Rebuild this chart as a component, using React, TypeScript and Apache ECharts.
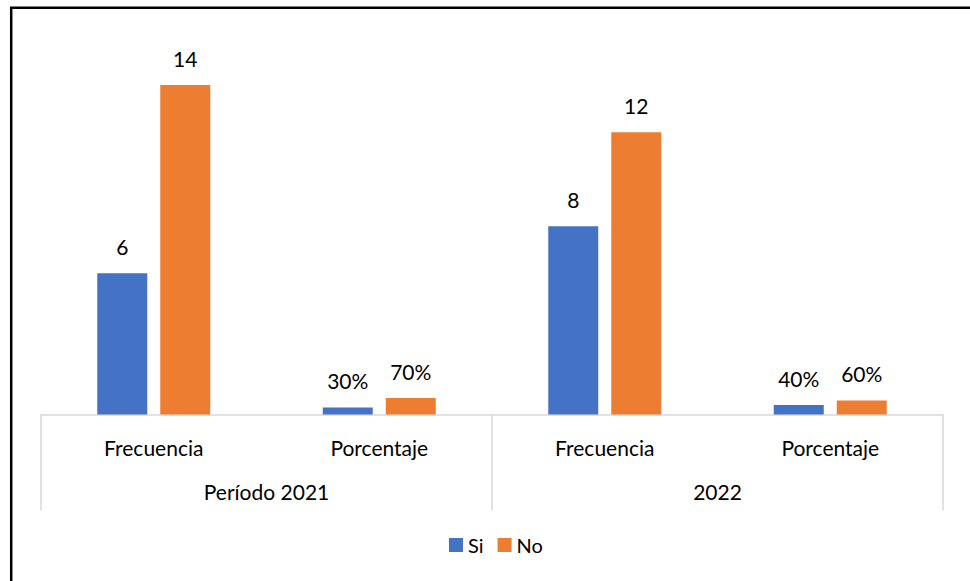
import React, { useEffect, useRef } from "react";
import * as echarts from "echarts";

// Inner categories and outer period groups
const subCategories = ["Frecuencia", "Porcentaje", "Frecuencia", "Porcentaje"];
const periods = ["Período 2021", "2022"];
// Values per category (percentages stored as fractions)
const siValues = [6, 0.3, 8, 0.4];
const noValues = [14, 0.7, 12, 0.6];
const seriesNames = ["Si", "No"];

const FONT = "Lato";

const fmt = (p: any) => {
  const isPct = p.dataIndex % 2 === 1;
  return isPct ? `${Math.round(p.value * 100)}%` : `${p.value}`;
};

export default function App() {
  const ref = useRef<HTMLDivElement>(null);

  useEffect(() => {
    if (!ref.current) return;
    const chart = echarts.init(ref.current, null, { renderer: "svg" });
    const labelStyle = {
      show: true,
      position: "top" as const,
      distance: 16,
      color: "#000",
      fontFamily: FONT,
      fontSize: 21,
      formatter: fmt,
    };
    chart.setOption({
      animation: false,
      backgroundColor: "#fff",
      textStyle: { fontFamily: FONT },
      grid: { left: 41, right: 27, top: 38, bottom: 166.5 },
      legend: {
        data: seriesNames,
        left: 444,
        top: 530,
        itemWidth: 14,
        itemHeight: 14,
        itemGap: 14,
        icon: "rect",
        textStyle: { fontFamily: FONT, fontSize: 20, color: "#000" },
      },
      xAxis: [
        {
          type: "category",
          data: subCategories,
          axisLine: { show: true, lineStyle: { color: "#d9d9d9", width: 1.5 } },
          axisTick: { show: false },
          axisLabel: { margin: 22, color: "#000", fontFamily: FONT, fontSize: 21 },
        },
        {
          type: "category",
          data: periods,
          position: "bottom",
          axisLine: { show: false },
          axisTick: { show: true, length: 96, lineStyle: { color: "#d9d9d9", width: 1.5 } },
          axisLabel: { margin: 66, color: "#000", fontFamily: FONT, fontSize: 21 },
        },
      ],
      yAxis: {
        type: "value",
        min: 0,
        max: 16,
        show: false,
        splitLine: { show: false },
      },
      series: [
        {
          name: seriesNames[0],
          type: "bar",
          xAxisIndex: 0,
          data: siValues,
          barWidth: 50,
          barGap: "26%",
          itemStyle: { color: "#4472C4" },
          label: labelStyle,
        },
        {
          name: seriesNames[1],
          type: "bar",
          xAxisIndex: 0,
          data: noValues,
          barWidth: 50,
          barGap: "26%",
          itemStyle: { color: "#ED7D31" },
          label: labelStyle,
        },
      ],
      graphic: [
        {
          type: "rect",
          shape: { x: 11.2, y: 7.7, width: 1000, height: 700 },
          style: { fill: "none", stroke: "#000", lineWidth: 2.5 },
          silent: true,
        },
      ],
    });
    return () => chart.dispose();
  }, []);

  return (
    <div
      ref={ref}
      style={{ position: "absolute", left: 0, top: 0, width: 970, height: 581 }}
    />
  );
}
